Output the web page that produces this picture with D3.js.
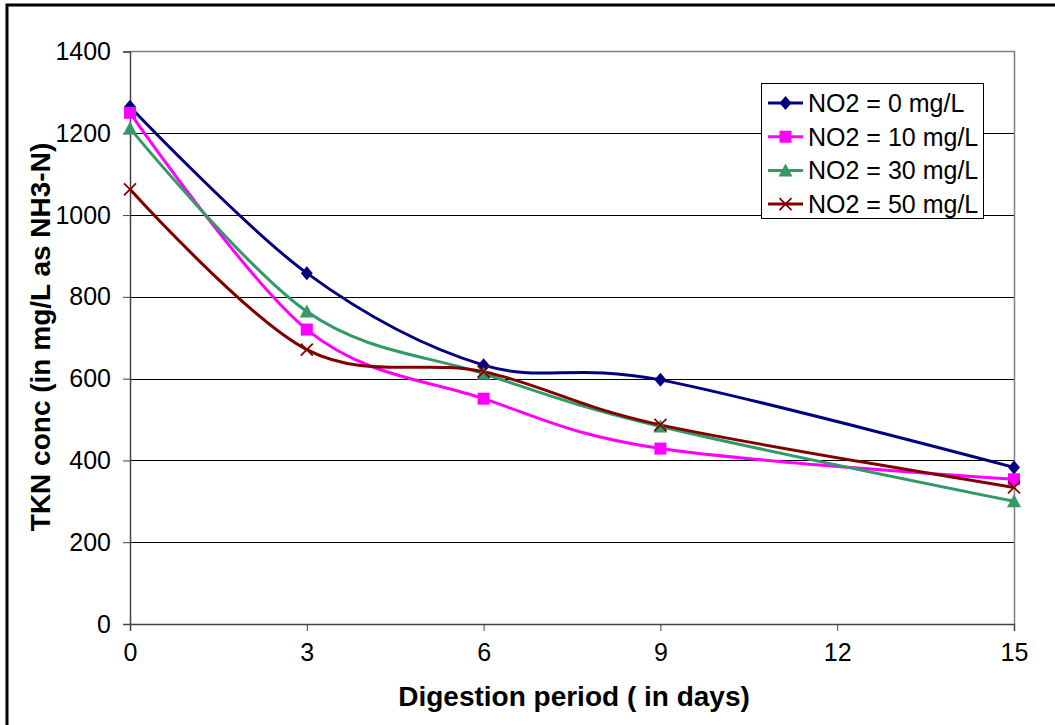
<!DOCTYPE html>
<html>
<head>
<meta charset="utf-8">
<script src="https://cdn.jsdelivr.net/npm/d3@7"></script>
<style>
  html, body { margin: 0; padding: 0; background: #fff; }
  svg { display: block; font-family: "Liberation Sans", Arial, sans-serif; }
</style>
</head>
<body>
<svg id="chart" width="1055" height="725"></svg>
<script>
// Digestion period (days) and TKN concentration for each nitrite dose
const days = [0, 3, 6, 9, 15];
const seriesNames = ["NO2 = 0 mg/L", "NO2 = 10 mg/L", "NO2 = 30 mg/L", "NO2 = 50 mg/L"];
const tkn0  = [1265, 858, 633, 597, 383];
const tkn10 = [1250, 720, 551, 429, 354];
const tkn30 = [1212, 764, 612, 483, 300];
const tkn50 = [1063, 671, 617, 487, 334];
const xTicks = [0, 3, 6, 9, 12, 15];
const yTicks = [0, 200, 400, 600, 800, 1000, 1200, 1400];

const colors  = ["#000080", "#FF00FF", "#339966", "#800000"];
const markers = ["diamond", "square", "triangle", "cross"];
const series = [tkn0, tkn10, tkn30, tkn50].map((vals, i) => ({
  name: seriesNames[i], color: colors[i], marker: markers[i],
  points: days.map((d, j) => ({ x: d, y: vals[j] }))
}));

const svg = d3.select("#chart");
const plot = { left: 130, top: 51.5, right: 1014, bottom: 624 };

const x = d3.scaleLinear().domain([0, 15]).range([plot.left, plot.right]);
const y = d3.scaleLinear().domain([0, 1400]).range([plot.bottom, plot.top]);

// outer frame
svg.append("rect")
  .attr("x", 7).attr("y", 5).attr("width", 1060).attr("height", 740)
  .attr("fill", "none").attr("stroke", "#000").attr("stroke-width", 3);

// horizontal gridlines
svg.append("g")
  .selectAll("line")
  .data(yTicks.filter(t => t > 0 && t < 1400))
  .join("line")
  .attr("x1", plot.left).attr("x2", plot.right)
  .attr("y1", d => Math.round(y(d)) + 0.5).attr("y2", d => Math.round(y(d)) + 0.5)
  .attr("stroke", "#000").attr("stroke-width", 1);

// plot area border (top and right)
svg.append("path")
  .attr("d", `M${plot.left},${plot.top}H${plot.right + 0.5}V${plot.bottom}`)
  .attr("fill", "none").attr("stroke", "#808080").attr("stroke-width", 1.5);

// y axis
const yAxis = d3.axisLeft(y).tickValues(yTicks).tickSize(7).tickPadding(12).tickFormat(d3.format("d"));
const gy = svg.append("g").attr("transform", `translate(${plot.left},0)`).call(yAxis);
gy.select(".domain").attr("stroke", "#444").attr("stroke-width", 1.5);
gy.selectAll(".tick line").attr("stroke", "#444");
gy.selectAll(".tick text").attr("font-size", 25).attr("fill", "#000")
  .attr("font-family", "Liberation Sans, Arial, sans-serif");

// x axis
const xAxis = d3.axisBottom(x).tickValues(xTicks).tickSize(7).tickPadding(12);
const gx = svg.append("g").attr("transform", `translate(0,${plot.bottom})`).call(xAxis);
gx.select(".domain").attr("stroke", "#444").attr("stroke-width", 1.5);
gx.selectAll(".tick line").attr("stroke", "#444");
gx.selectAll(".tick text").attr("font-size", 25).attr("fill", "#000")
  .attr("font-family", "Liberation Sans, Arial, sans-serif");

// smoothed lines
const line = d3.line().x(d => x(d.x)).y(d => y(d.y)).curve(d3.curveCatmullRom.alpha(0));
svg.append("g").selectAll("path")
  .data(series)
  .join("path")
  .attr("d", d => line(d.points))
  .attr("fill", "none")
  .attr("stroke", d => d.color)
  .attr("stroke-width", 3);

function drawMarker(g, type, color) {
  if (type === "diamond") {
    g.append("path").attr("d", "M0,-7L6,0L0,7L-6,0Z").attr("fill", color);
  } else if (type === "square") {
    g.append("rect").attr("x", -6).attr("y", -6).attr("width", 12).attr("height", 12).attr("fill", color);
  } else if (type === "triangle") {
    g.append("path").attr("d", "M0,-7L7,6L-7,6Z").attr("fill", color);
  } else {
    g.append("path").attr("d", "M-6,-6L6,6M-6,6L6,-6").attr("stroke", color).attr("stroke-width", 1.8).attr("fill", "none");
  }
}

series.forEach(s => {
  svg.append("g").selectAll("g")
    .data(s.points)
    .join("g")
    .attr("transform", d => `translate(${x(d.x)},${y(d.y)})`)
    .each(function () { drawMarker(d3.select(this), s.marker, s.color); });
});

// axis titles
svg.append("text")
  .attr("x", 574).attr("y", 706)
  .attr("text-anchor", "middle").attr("font-size", 28).attr("font-weight", "bold")
  .text("Digestion period ( in days)");

svg.append("text")
  .attr("transform", `translate(50,337) rotate(-90)`)
  .attr("text-anchor", "middle").attr("font-size", 28).attr("font-weight", "bold")
  .text("TKN conc (in mg/L as NH3-N)");

// legend
const legend = svg.append("g").attr("transform", "translate(761,83)");
legend.append("rect").attr("x", 0.5).attr("y", 0.5).attr("width", 222).attr("height", 135)
  .attr("fill", "#fff").attr("stroke", "#000").attr("stroke-width", 1);
series.forEach((s, i) => {
  const row = legend.append("g").attr("transform", `translate(0,${20 + i * 33.7})`);
  row.append("line").attr("x1", 7).attr("x2", 42).attr("y1", 0).attr("y2", 0)
    .attr("stroke", s.color).attr("stroke-width", 3);
  const m = row.append("g").attr("transform", "translate(24.5,0)");
  drawMarker(m, s.marker, s.color);
  row.append("text").attr("x", 47).attr("y", 9).attr("font-size", 25).text(s.name);
});
</script>
</body>
</html>
